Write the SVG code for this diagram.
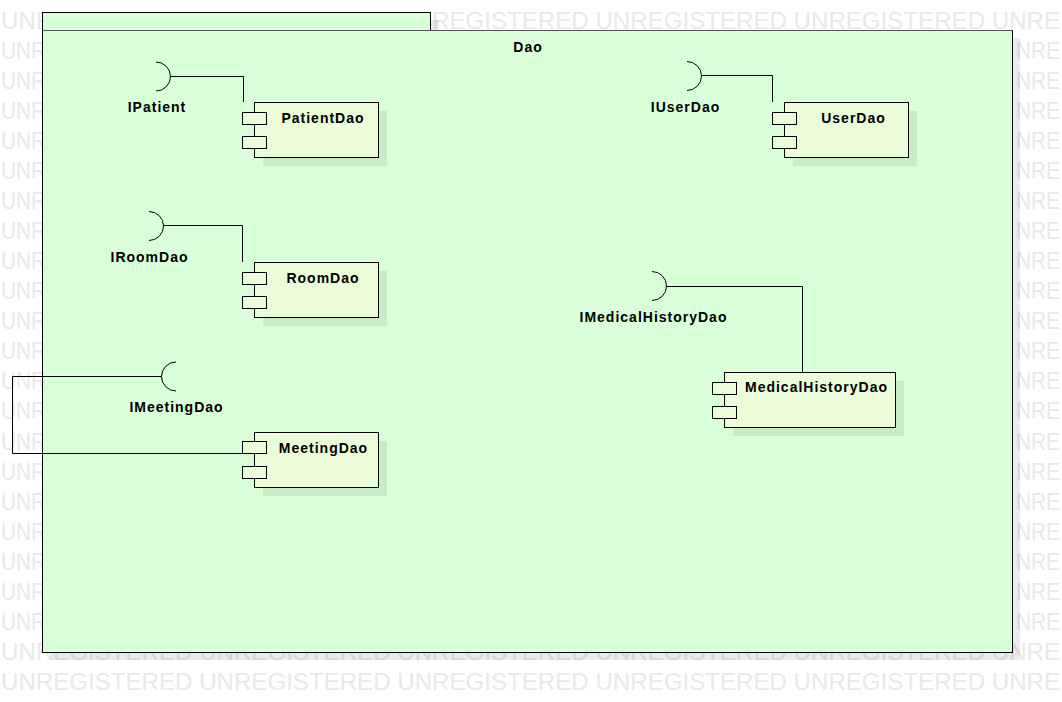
<svg xmlns="http://www.w3.org/2000/svg" width="1062" height="702" viewBox="0 0 1062 702">
<style>
.wm{font-family:"Liberation Sans",Arial,sans-serif;font-size:24px;fill:#e9e9e9}
.lbl{font-family:"Liberation Sans",Arial,sans-serif;font-size:14px;font-weight:bold;fill:#000;text-anchor:middle;letter-spacing:1px}
.pkg{fill:#d9ffd9;stroke:#000;stroke-width:1}
.shadow{fill:#000;fill-opacity:0.08;stroke:none}
.comp{fill:#ebfcd9;stroke:#000;stroke-width:1}
.line{fill:none;stroke:#000;stroke-width:1}
</style>
<rect width="1062" height="702" fill="#fff"/>
<g id="watermark">
<text class="wm" x="1" y="28.5" textLength="1059" lengthAdjust="spacingAndGlyphs">UNREGISTERED UNREGISTERED UNREGISTERED UNREGISTERED UNREGISTERED UNRE</text>
<g id="wm-left">
<text class="wm" x="1" y="58.6" textLength="45" lengthAdjust="spacingAndGlyphs">UNR</text>
<text class="wm" x="1" y="88.6" textLength="45" lengthAdjust="spacingAndGlyphs">UNR</text>
<text class="wm" x="1" y="118.7" textLength="45" lengthAdjust="spacingAndGlyphs">UNR</text>
<text class="wm" x="1" y="148.8" textLength="45" lengthAdjust="spacingAndGlyphs">UNR</text>
<text class="wm" x="1" y="178.9" textLength="45" lengthAdjust="spacingAndGlyphs">UNR</text>
<text class="wm" x="1" y="208.9" textLength="45" lengthAdjust="spacingAndGlyphs">UNR</text>
<text class="wm" x="1" y="239.0" textLength="45" lengthAdjust="spacingAndGlyphs">UNR</text>
<text class="wm" x="1" y="269.1" textLength="45" lengthAdjust="spacingAndGlyphs">UNR</text>
<text class="wm" x="1" y="299.1" textLength="45" lengthAdjust="spacingAndGlyphs">UNR</text>
<text class="wm" x="1" y="329.2" textLength="45" lengthAdjust="spacingAndGlyphs">UNR</text>
<text class="wm" x="1" y="359.3" textLength="45" lengthAdjust="spacingAndGlyphs">UNR</text>
<text class="wm" x="1" y="389.3" textLength="45" lengthAdjust="spacingAndGlyphs">UNR</text>
<text class="wm" x="1" y="419.4" textLength="45" lengthAdjust="spacingAndGlyphs">UNR</text>
<text class="wm" x="1" y="449.5" textLength="45" lengthAdjust="spacingAndGlyphs">UNR</text>
<text class="wm" x="1" y="479.6" textLength="45" lengthAdjust="spacingAndGlyphs">UNR</text>
<text class="wm" x="1" y="509.6" textLength="45" lengthAdjust="spacingAndGlyphs">UNR</text>
<text class="wm" x="1" y="539.7" textLength="45" lengthAdjust="spacingAndGlyphs">UNR</text>
<text class="wm" x="1" y="569.8" textLength="45" lengthAdjust="spacingAndGlyphs">UNR</text>
<text class="wm" x="1" y="599.8" textLength="45" lengthAdjust="spacingAndGlyphs">UNR</text>
<text class="wm" x="1" y="629.9" textLength="45" lengthAdjust="spacingAndGlyphs">UNR</text>
</g>
<g id="wm-right">
<text class="wm" x="1016" y="58.6" textLength="44" lengthAdjust="spacingAndGlyphs">NRE</text>
<text class="wm" x="1016" y="88.6" textLength="44" lengthAdjust="spacingAndGlyphs">NRE</text>
<text class="wm" x="1016" y="118.7" textLength="44" lengthAdjust="spacingAndGlyphs">NRE</text>
<text class="wm" x="1016" y="148.8" textLength="44" lengthAdjust="spacingAndGlyphs">NRE</text>
<text class="wm" x="1016" y="178.9" textLength="44" lengthAdjust="spacingAndGlyphs">NRE</text>
<text class="wm" x="1016" y="208.9" textLength="44" lengthAdjust="spacingAndGlyphs">NRE</text>
<text class="wm" x="1016" y="239.0" textLength="44" lengthAdjust="spacingAndGlyphs">NRE</text>
<text class="wm" x="1016" y="269.1" textLength="44" lengthAdjust="spacingAndGlyphs">NRE</text>
<text class="wm" x="1016" y="299.1" textLength="44" lengthAdjust="spacingAndGlyphs">NRE</text>
<text class="wm" x="1016" y="329.2" textLength="44" lengthAdjust="spacingAndGlyphs">NRE</text>
<text class="wm" x="1016" y="359.3" textLength="44" lengthAdjust="spacingAndGlyphs">NRE</text>
<text class="wm" x="1016" y="389.3" textLength="44" lengthAdjust="spacingAndGlyphs">NRE</text>
<text class="wm" x="1016" y="419.4" textLength="44" lengthAdjust="spacingAndGlyphs">NRE</text>
<text class="wm" x="1016" y="449.5" textLength="44" lengthAdjust="spacingAndGlyphs">NRE</text>
<text class="wm" x="1016" y="479.6" textLength="44" lengthAdjust="spacingAndGlyphs">NRE</text>
<text class="wm" x="1016" y="509.6" textLength="44" lengthAdjust="spacingAndGlyphs">NRE</text>
<text class="wm" x="1016" y="539.7" textLength="44" lengthAdjust="spacingAndGlyphs">NRE</text>
<text class="wm" x="1016" y="569.8" textLength="44" lengthAdjust="spacingAndGlyphs">NRE</text>
<text class="wm" x="1016" y="599.8" textLength="44" lengthAdjust="spacingAndGlyphs">NRE</text>
<text class="wm" x="1016" y="629.9" textLength="44" lengthAdjust="spacingAndGlyphs">NRE</text>
</g>
<text class="wm" x="1" y="660.0" textLength="1059" lengthAdjust="spacingAndGlyphs">UNREGISTERED UNREGISTERED UNREGISTERED UNREGISTERED UNREGISTERED UNRE</text>
<text class="wm" x="1" y="690.0" textLength="1059" lengthAdjust="spacingAndGlyphs">UNREGISTERED UNREGISTERED UNREGISTERED UNREGISTERED UNREGISTERED UNRE</text>
</g>
<g id="package-Dao">
<rect class="shadow" x="50" y="20" width="389" height="10"/>
<rect class="shadow" x="50" y="38" width="970" height="622"/>
<rect class="pkg" x="42.5" y="12.5" width="388" height="18"/>
<rect class="pkg" x="42.5" y="30.5" width="970" height="622"/>
<line x1="42.5" y1="30.5" x2="1012.5" y2="30.5" stroke="#555" stroke-width="1"/>
<text class="lbl" x="528" y="51.7">Dao</text>
</g>
<g id="connectors">
<path class="line" d="M170,76.5 H243.5 V102"/>
<path class="line" d="M163,225.5 H242.5 V262"/>
<path class="line" d="M162,376.5 H12.5 V453.5 H242.5"/>
<path class="line" d="M701,75.5 H772.5 V102"/>
<path class="line" d="M666,286.5 H802.5 V372"/>
</g>
<g id="IPatient">
<path class="line" d="M156,62 A14.5,14.5 0 0 1 156,91"/>
<text class="lbl" x="157" y="111.7">IPatient</text>
</g>
<g id="IRoomDao">
<path class="line" d="M149,211.5 A14.5,14.5 0 0 1 149,240.5"/>
<text class="lbl" x="149.5" y="261.7">IRoomDao</text>
</g>
<g id="IMeetingDao">
<path class="line" d="M176,362 A14.5,14.5 0 0 0 176,391"/>
<text class="lbl" x="176.5" y="411.7">IMeetingDao</text>
</g>
<g id="IUserDao">
<path class="line" d="M687,61.5 A14.5,14.5 0 0 1 687,90.5"/>
<text class="lbl" x="685.5" y="111.7">IUserDao</text>
</g>
<g id="IMedicalHistoryDao">
<path class="line" d="M652,271.5 A14.5,14.5 0 0 1 652,300.5"/>
<text class="lbl" x="653.5" y="321.7">IMedicalHistoryDao</text>
</g>
<g id="PatientDao">
<rect class="shadow" x="263" y="111" width="124" height="55"/>
<rect class="comp" x="254.5" y="102.5" width="124" height="55"/>
<rect class="comp" x="242.5" y="112.5" width="24" height="12"/>
<rect class="comp" x="242.5" y="136.5" width="24" height="12"/>
<text class="lbl" x="323" y="122.7">PatientDao</text>
</g>
<g id="RoomDao">
<rect class="shadow" x="263" y="271" width="124" height="55"/>
<rect class="comp" x="254.5" y="262.5" width="124" height="55"/>
<rect class="comp" x="242.5" y="272.5" width="24" height="12"/>
<rect class="comp" x="242.5" y="296.5" width="24" height="12"/>
<text class="lbl" x="323" y="283.2">RoomDao</text>
</g>
<g id="MeetingDao">
<rect class="shadow" x="263" y="441" width="124" height="55"/>
<rect class="comp" x="254.5" y="432.5" width="124" height="55"/>
<rect class="comp" x="242.5" y="441.5" width="24" height="12"/>
<rect class="comp" x="242.5" y="466.5" width="24" height="12"/>
<text class="lbl" x="323.5" y="452.5">MeetingDao</text>
</g>
<g id="UserDao">
<rect class="shadow" x="793" y="111" width="124" height="55"/>
<rect class="comp" x="784.5" y="102.5" width="124" height="55"/>
<rect class="comp" x="772.5" y="112.5" width="24" height="12"/>
<rect class="comp" x="772.5" y="136.5" width="24" height="12"/>
<text class="lbl" x="853.5" y="122.7">UserDao</text>
</g>
<g id="MedicalHistoryDao">
<rect class="shadow" x="733" y="381" width="171" height="55"/>
<rect class="comp" x="724.5" y="372.5" width="171" height="55"/>
<rect class="comp" x="712.5" y="382.5" width="24" height="12"/>
<rect class="comp" x="712.5" y="406.5" width="24" height="12"/>
<text class="lbl" x="816.5" y="392">MedicalHistoryDao</text>
</g>
</svg>
